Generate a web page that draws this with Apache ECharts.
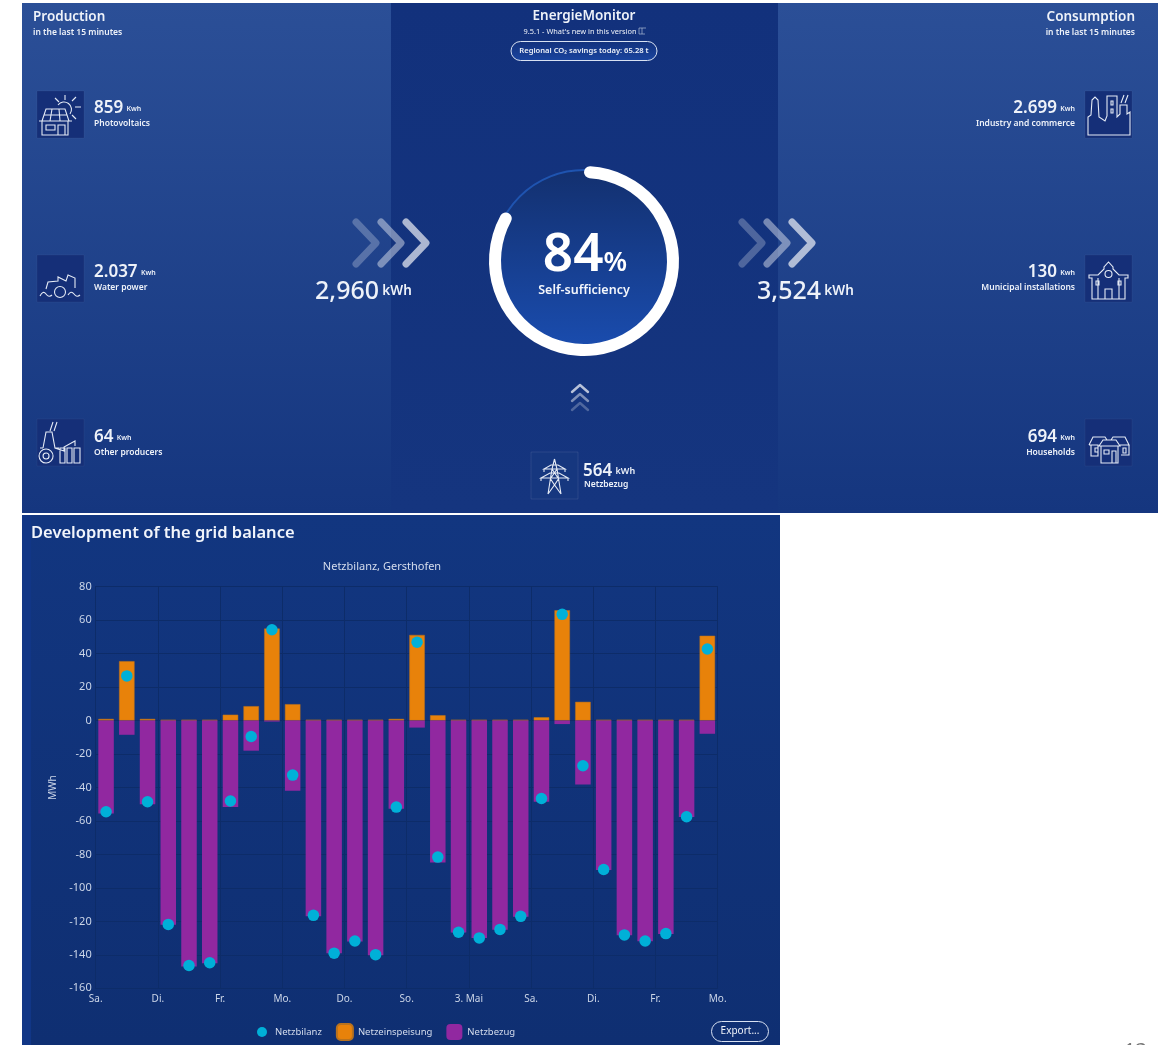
<!DOCTYPE html>
<html>
<head>
<meta charset="utf-8">
<style>html,body{margin:0;padding:0;background:#fff;overflow:hidden}#c{width:1161px;height:1045px}</style>
<script src="https://cdn.jsdelivr.net/npm/echarts@6/dist/echarts.min.js"></script>
</head>
<body>
<div id="c"></div>
<script>
const dayTicks = ['Sa.','Di.','Fr.','Mo.','Do.','So.','3. Mai','Sa.','Di.','Fr.','Mo.'];
const yTickStep = 20;
const netzeinspeisung = [1,35.5,1,0.5,0.5,0.5,3.5,8.6,55,9.8,0.5,0.5,0.5,0.5,1,51.2,3.2,0.5,0.5,0.5,0.5,2,65.9,11.2,0.5,0.5,0.5,0.5,0.5,50.7];
const netzbezug = [-55.5,-8.5,-50,-122,-147,-145,-51.7,-18,-0.6,-42,-117,-139,-132,-140.3,-52.7,-4.2,-84.8,-126.7,-130,-125,-117.2,-48.5,-2.1,-38.2,-89.3,-128.3,-131.9,-127.5,-57.7,-7.9];
const netzbilanz = [-54.5,26.7,-48.5,-121.8,-146.4,-144.7,-48.1,-9.5,54.3,-32.6,-116.4,-139,-131.7,-139.9,-51.7,46.8,-81.6,-126.5,-129.9,-124.8,-117,-46.6,63.5,-27,-89,-128.1,-131.7,-127.3,-57.5,42.8];
const selfSufficiency = 84;
const producers = [['859','Photovoltaics'],['2.037','Water power'],['64','Other producers']];
const consumers = [['2.699','Industry and commerce'],['130','Municipal installations'],['694','Households']];
const totals = {production:'2,960', consumption:'3,524', grid:'564'};

const FONT = '"Noto Sans", sans-serif';
const TXT = '#eef2f9';
const ICON = {
  pv:'M21 14a7.5 7.5 0 1 1 12 9M28 4V9M18 7l4 4M39 6l-4 4M44 16H38M35 24l4 4M5 30L9 18H28L32 30ZM7 24H30M15 18L13 30M22 18L23 30M2 30H35M5 30V44H31V30M9 34H18V39H9ZM21 44V34H28V44Z',
  water:'M9 34L11 27L21 26L21 22L29 26L31 20L38 23V33M3 41q3 -6 6 -2t6 1M31 40q3 -5 6 -1t6 1M28.5 37a5.5 5.5 0 1 1 -11 0a5.5 5.5 0 1 1 11 0Z',
  other:'M13 12L16 3M17 12L20 3M6 29L9 13H15L18 29L27 32V28L38 22V27M3 29H6M18 29H22M9 30a7 7 0 1 0 .1 0ZM9 34a3 3 0 1 0 .1 0ZM23 29H28V44H23ZM30 29H35V44H30ZM37 29H43V44H37Z',
  industry:'M3 44V26L6 24L7 9L10 6L13 9L14 26L20 30L22 25V5H32V26L35 23V14H42V23L45 21V44ZM26 10H28V14H26ZM26 18H28V22H26ZM36 12L39 4M40 12L43 4',
  municipal:'M4 20H13L19 14V12L23.5 7L28 12V14L34 20H43V23H40V44H7V23H4ZM11 26H14V30H11ZM33 26H36V30H33ZM13 23V44M34 23V44M20 44V34H27V44ZM27 19a3.5 3.5 0 1 1 -7 0a3.5 3.5 0 1 1 7 0Z',
  houses:'M4 26L8 18H20L22 21M4 26H13V37H6V26M10 29H13V33H10ZM26 21L28 18H40L44 26H35M44 26V36H36M38 29H41V34H38ZM14 27L18 21H31L35 27ZM16 27V44H33V27M19 31H24V35H19ZM27 44V32H31V44Z',
  tower:'M23.5 7L21 17L17 42M23.5 7L26 17L30 42M13 17H34L27 13H20ZM10 26H37L28 21H19ZM19 26L23.5 33L28 26M21 17L27 26M26 17L20 26M17 42L23.5 33L30 42M13 17V20M34 17V20M10 26V29M37 26V29',
  book:'M0 0H3V6H0ZM3 0H7M3 6H6'
};
Object.keys(ICON).forEach(k=>echarts.graphic.registerShape('icon_'+k,echarts.graphic.extendPath(ICON[k],{})));
const g = [];
function rect(x,y,w,h,fill,extra){g.push(Object.assign({type:'rect',silent:true,z:-5,shape:{x,y,width:w,height:h},style:{fill}},extra||{}));}
function vgrad(a,b){return new echarts.graphic.LinearGradient(0,0,0,1,[{offset:0,color:a},{offset:1,color:b}]);}
function txt(x,y,text,size,weight,align,extra){
  g.push({type:'text',silent:true,z:5,x,y:y+1,style:Object.assign({text,fill:TXT,font:weight+' '+size+'px '+FONT,align:align||'left',verticalAlign:'middle'},extra||{})});
}
function numUnit(x,y,num,unit,align,ns,us,nw){
  ns=ns||17;us=us||7;nw=nw||600;
  g.push({type:'text',silent:true,z:5,x,y:y+1.5,style:{text:'{a|'+num+'} {b|'+unit+'}',align:align,verticalAlign:'middle',
    rich:{a:{fill:TXT,font:nw+' '+ns+'px '+FONT},b:{fill:TXT,font:'600 '+us+'px '+FONT}}}});
}
function drawPath(k,x,y,stroke,lw){g.push({type:'icon_'+k,silent:true,z:4,x,y,style:{fill:null,stroke:stroke||'#e4eaf5',lineWidth:lw||1.1}});}
function icon(x,y,k,border,fill){
  rect(x,y,47,47,fill||'#152f78',{z:-3,style:{fill:fill||'#152f78',stroke:border||'rgba(255,255,255,0.04)',lineWidth:1}});
  drawPath(k,x,y);
}
function chev(pts,op,w){g.push({type:'polyline',silent:true,z:3,shape:{points:pts},style:{fill:null,stroke:'#ffffff',opacity:op,lineWidth:w,lineCap:'round',lineJoin:'round'}});}

// panels
rect(22,3,369,510,vgrad('#2b4f97','#15367f'));
rect(778,3,380,510,vgrad('#2b4f97','#15367f'));
rect(391,3,387,510,vgrad('#12317c','#15357f'));
rect(22,515,758,530,vgrad('#123680','#0f2f72'));
rect(22,515,9,530,'#113686',{z:-4});
// headers
txt(33,16.5,'Production',13.5,600);
txt(33,31.5,'in the last 15 minutes',8.5,600);
txt(1135,16.5,'Consumption',13.5,600,'right');
txt(1135,31.5,'in the last 15 minutes',8.5,600,'right');
txt(584,15,'EnergieMonitor',13.5,600,'center');
txt(580,30.5,"9.5.1 - What's new in this version",7.4,400,'center');
drawPath('book',639,28,'#aebbd6',.7);
g.push({type:'rect',silent:true,z:3,shape:{x:511,y:41.5,width:146,height:19,r:9.5},style:{fill:vgrad('#12317c','#1a45a0'),stroke:'#d8e1f2',lineWidth:1}});
txt(584,50,'Regional CO₂ savings today: 65.28 t',7.6,600,'center');
// items
const py=[107,271,436];
const pyIcon=[91,255,419];
const leftIcons=['pv','water','other'], rightIcons=['industry','municipal','houses'];
producers.forEach((p,i)=>{
  icon(37,pyIcon[i],leftIcons[i]);
  numUnit(94,py[i],p[0],'Kwh','left');
  txt(94,py[i]+16,p[1],8.5,600);
});
consumers.forEach((p,i)=>{
  icon(1085,pyIcon[i],rightIcons[i]);
  numUnit(1075,py[i],p[0],'Kwh','right');
  txt(1075,py[i]+16,p[1],8.5,600,'right');
});
// flows
[[353,.25],[378,.42],[403,.65]].forEach(a=>chev([[a[0]+3,222],[a[0]+23,243],[a[0]+3,264]],a[1],7));
[[739,.25],[764,.42],[789,.65]].forEach(a=>chev([[a[0]+3,222],[a[0]+23,243],[a[0]+3,264]],a[1],7));
numUnit(315,290,totals.production,'kWh','left',25,13.5,500);
numUnit(757,290,totals.consumption,'kWh','left',25,13.5,500);
[[392,.7],[401,.45],[410,.25]].forEach(a=>chev([[572,a[0]],[580,a[0]-7],[588,a[0]]],a[1],2.4));
icon(531,452,'tower','rgba(255,255,255,0.09)','#16377f');
numUnit(583,470,totals.grid,'kWh','left',17,9);
txt(584,484,'Netzbezug',8.5,600);
// centre disc
g.push({type:'circle',silent:true,z:-1,shape:{cx:584,cy:261,r:91},style:{fill:vgrad('#13306f','#1a4db0'),stroke:'#1f54b0',lineWidth:2}});
g.push({type:'text',silent:true,z:6,x:585,y:256,style:{text:'{a|'+selfSufficiency+'}{b|%}',align:'center',verticalAlign:'middle',
  rich:{a:{fill:'#fff',font:'600 53px '+FONT},b:{fill:'#fff',font:'600 27px '+FONT,padding:[14,0,0,0]}}}});
txt(584,289,'Self-sufficiency',12.5,600,'center',{fill:'#f4f7fc'});
// chart extras
g.push({type:'rect',silent:true,z:3,shape:{x:711.5,y:1021.5,width:57,height:20,r:10},style:{fill:null,stroke:'#d8e1f2',lineWidth:1}});
txt(740,1030.5,'Export...',10,400,'center');
txt(1124,1050,'13',20,400,'left',{fill:'#777777'});

const chart = echarts.init(document.getElementById('c'),null,{renderer:'canvas'});
const gridLine = {show:true,lineStyle:{color:'#0d2c69',width:1}};
chart.setOption({
  animation:false,
  backgroundColor:'#ffffff',
  title:[
    {text:'Development of the grid balance',left:31,top:525,padding:0,textStyle:{color:'#f2f5fb',fontFamily:FONT,fontSize:16.5,fontWeight:600}},
    {text:'Netzbilanz, Gersthofen',left:382,top:561,padding:0,textAlign:'center',textStyle:{color:'#d5dded',fontFamily:FONT,fontSize:11,fontWeight:400}}
  ],
  grid:{left:95.7,top:586.7,width:622,height:401.6,containLabel:false},
  legend:{
    left:254,top:1023,padding:0,itemGap:14,itemWidth:16,itemHeight:16,selectedMode:false,
    textStyle:{color:'#d5dded',fontFamily:FONT,fontSize:9.5},
    data:[
      {name:'Netzbilanz',icon:'path://M0 0M16 16M8 3a5 5 0 1 1 -.01 0Z',itemStyle:{color:'#00B0D8'}},
      {name:'Netzeinspeisung',icon:'roundRect',itemStyle:{color:'#E8820A'}},
      {name:'Netzbezug',icon:'roundRect',itemStyle:{color:'#9128A0'}}
    ]
  },
  xAxis:[
    {type:'category',show:false,data:netzbilanz.map((_,i)=>dayTicks[Math.floor(i/3)])},
    {type:'category',boundaryGap:false,data:dayTicks,position:'bottom',
      axisTick:{show:false},axisLine:{show:false},splitLine:gridLine,
      axisLabel:{interval:0,color:'#ccd6e8',fontFamily:FONT,fontSize:10,margin:6}}
  ],
  yAxis:{type:'value',min:-160,max:80,interval:yTickStep,name:'MWh',nameLocation:'middle',nameGap:35,nameRotate:90,
    nameTextStyle:{color:'#ccd6e8',fontFamily:FONT,fontSize:10},
    axisLine:{show:true,lineStyle:{color:'#0d2c69'}},axisTick:{show:false},splitLine:gridLine,
    axisLabel:{color:'#ccd6e8',fontFamily:FONT,fontSize:11,margin:4}},
  series:[
    {name:'Netzbilanz',type:'scatter',xAxisIndex:0,data:netzbilanz,symbol:'circle',symbolSize:11.5,z:6,itemStyle:{color:'#00B0D8',opacity:1}},
    {name:'Netzeinspeisung',type:'bar',xAxisIndex:0,stack:'b',barWidth:15.5,data:netzeinspeisung,z:3,itemStyle:{color:'#E8820A',borderColor:'#b8721e',borderWidth:.5}},
    {name:'Netzbezug',type:'bar',xAxisIndex:0,stack:'b',barWidth:15.5,data:netzbezug,z:4,itemStyle:{color:'#9128A0'}},
    {name:'Self-sufficiency',type:'pie',center:[584,261],radius:[83,95],startAngle:90,clockwise:true,silent:true,z:4,
      label:{show:false},labelLine:{show:false},
      data:[{value:selfSufficiency,itemStyle:{color:'#ffffff',borderRadius:6}},
            {value:100-selfSufficiency,itemStyle:{color:'rgba(0,0,0,0)'}}]}
  ],
  graphic:{elements:g}
});
</script>
</body>
</html>
